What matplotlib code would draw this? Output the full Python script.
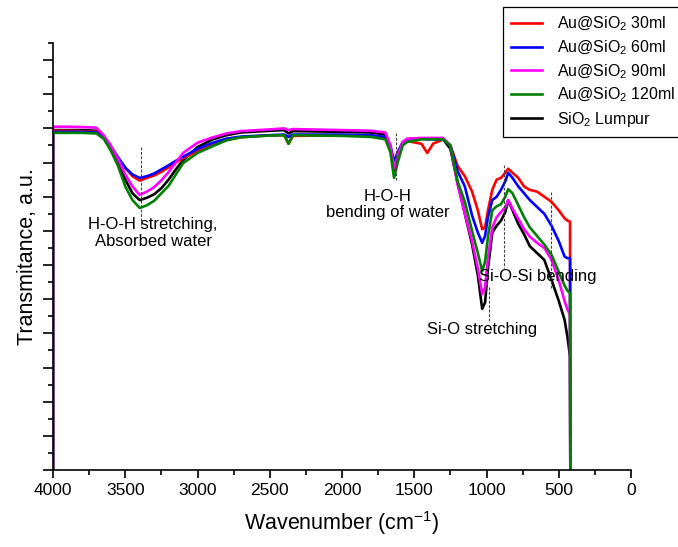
import numpy as np
import matplotlib
matplotlib.use("Agg")
import matplotlib.pyplot as plt
from matplotlib.ticker import MultipleLocator, NullFormatter

plt.rcParams['font.family'] = ['Liberation Sans', 'DejaVu Sans']
plt.rcParams['mathtext.fontset'] = 'custom'
plt.rcParams['mathtext.rm'] = 'Liberation Sans'
plt.rcParams['mathtext.it'] = 'Liberation Sans'

# wavenumber grid (cm-1)
wavenumber = [4000, 4000, 3900, 3800, 3700, 3650, 3600, 3550, 3500, 3450, 3400,
              3350, 3300, 3250, 3200, 3150, 3100, 3000, 2900, 2800, 2700, 2500,
              2400, 2370, 2340, 2000, 1800, 1700, 1665, 1640, 1615, 1580, 1550,
              1450, 1410, 1370, 1300, 1250, 1200, 1150, 1100, 1060, 1030, 1010,
              990, 960, 930, 900, 870, 850, 820, 780, 740, 700, 650, 600, 550,
              500, 460, 440, 422, 420]

au_30 = [0, 9.93, 9.93, 9.92, 9.9, 9.75, 9.45, 9.15, 8.85, 8.6, 8.47,
         8.55, 8.62, 8.73, 8.86, 9.0, 9.13, 9.33, 9.5, 9.66, 9.74, 9.8,
         9.8, 9.55, 9.78, 9.8, 9.78, 9.72, 9.45, 8.95, 9.25, 9.58, 9.63,
         9.55, 9.28, 9.55, 9.68, 9.5, 8.9, 8.6, 8.15, 7.6, 7.05, 7.1,
         7.6, 8.2, 8.5, 8.55, 8.7, 8.82, 8.7, 8.55, 8.3, 8.2, 8.15, 8.0, 7.85,
         7.6, 7.37, 7.3, 7.27, 0]

au_60 = [0, 9.9, 9.9, 9.9, 9.88, 9.75, 9.47, 9.15, 8.85, 8.65, 8.55,
         8.6, 8.68, 8.8, 8.92, 9.05, 9.17, 9.4, 9.57, 9.7, 9.76, 9.8,
         9.82, 9.75, 9.82, 9.82, 9.8, 9.75, 9.5, 9.03, 9.3, 9.6, 9.65,
         9.7, 9.68, 9.68, 9.68, 9.5, 8.75, 8.3, 7.45, 6.95, 6.65, 6.85,
         7.4, 7.9, 8.0, 8.2, 8.45, 8.7, 8.55, 8.3, 8.1, 7.9, 7.7, 7.5, 7.15,
         6.7, 6.25, 6.2, 6.2, 0]

au_90 = [0, 10.05, 10.05, 10.04, 10.02, 9.8, 9.5, 9.1, 8.65, 8.3, 8.05,
         8.15, 8.28, 8.48, 8.72, 9.0, 9.28, 9.58, 9.73, 9.85, 9.92, 9.97,
         10.0, 9.95, 9.98, 9.95, 9.93, 9.88, 9.5, 8.84, 9.2, 9.6, 9.7,
         9.72, 9.72, 9.72, 9.72, 9.5, 8.35, 7.5, 6.7, 5.9, 5.15, 5.35,
         6.2, 7.1, 7.4, 7.55, 7.7, 7.9, 7.65, 7.35, 7.05, 6.83, 6.65, 6.5, 6.15,
         5.55, 4.95, 4.7, 4.55, 0]

au_120 = [0, 9.87, 9.87, 9.87, 9.85, 9.7, 9.35, 8.9, 8.3, 7.9, 7.67,
          7.75, 7.88, 8.1, 8.32, 8.65, 8.98, 9.28, 9.47, 9.65, 9.74, 9.79,
          9.8, 9.55, 9.8, 9.78, 9.75, 9.68, 9.3, 8.55, 9.0, 9.5, 9.6,
          9.68, 9.68, 9.68, 9.68, 9.5, 8.45, 7.85, 7.0, 6.35, 5.82, 6.1,
          6.83, 7.6, 7.72, 7.78, 8.0, 8.22, 8.1, 7.75, 7.4, 7.1, 6.85, 6.6, 6.3,
          5.8, 5.4, 5.25, 5.17, 0]

sio2 = [0, 9.95, 9.95, 9.95, 9.93, 9.75, 9.45, 9.0, 8.5, 8.1, 7.9,
        7.97, 8.07, 8.25, 8.5, 8.8, 9.07, 9.45, 9.67, 9.8, 9.88, 9.93,
        9.95, 9.85, 9.92, 9.9, 9.88, 9.82, 9.4, 8.73, 9.1, 9.55, 9.65,
        9.7, 9.7, 9.7, 9.68, 9.4, 8.4, 7.5, 6.6, 5.7, 4.72, 4.9,
        5.9, 6.95, 7.15, 7.3, 7.55, 7.9, 7.6, 7.2, 6.9, 6.55, 6.35, 6.15, 5.56,
        4.95, 4.4, 3.9, 3.32, 0]

labels = [r'Au@SiO$_\mathregular{2}$ 30ml', r'Au@SiO$_\mathregular{2}$ 60ml',
          r'Au@SiO$_\mathregular{2}$ 90ml', r'Au@SiO$_\mathregular{2}$ 120ml',
          r'SiO$_\mathregular{2}$ Lumpur']
colors = ['#ff0000', '#0000ff', '#ff00ff', '#008000', '#000000']
series = [au_30, au_60, au_90, au_120, sio2]

# band markers: (wavenumber, y from, y to)
band_lines = [(3393, 9.45, 7.17), (1626, 9.86, 8.49), (981, 5.36, 4.33),
              (879, 8.93, 5.9), (556, 8.14, 5.33)]
band_texts = [(3308, 6.94, 'H-O-H stretching,\nAbsorbed water'),
              (1685, 7.77, 'H-O-H\nbending of water'),
              (1028, 4.10, 'Si-O stretching'),
              (644, 5.66, 'Si-O-Si bending')]

fig = plt.figure(figsize=(6.78, 5.47), dpi=100)
ax = fig.add_axes([0.0782, 0.1408, 0.8525, 0.7806])

handles = [None] * 5
for i in [4, 0, 1, 2, 3]:
    h, = ax.plot(wavenumber, series[i], color=colors[i], lw=1.9, label=labels[i])
    handles[i] = h

for x, y0, y1 in band_lines:
    ax.plot([x, x], [y0, y1], color='#404040', lw=0.8, ls=(0, (2.5, 1.5)))
for x, y, t in band_texts:
    ax.text(x, y, t, ha='center', va='center', fontsize=12, linespacing=1.1)

ax.set_xlim(4000, 0)
ax.set_ylim(0, 12.5)
ax.xaxis.set_major_locator(MultipleLocator(500))
ax.xaxis.set_minor_locator(MultipleLocator(250))
ax.yaxis.set_major_locator(MultipleLocator(1))
ax.yaxis.set_minor_locator(MultipleLocator(0.5))
ax.yaxis.set_major_formatter(NullFormatter())
for s in ['top', 'right']:
    ax.spines[s].set_visible(False)
for s in ['left', 'bottom']:
    ax.spines[s].set_linewidth(1.2)
ax.tick_params(which='major', length=6, width=1.2, labelsize=12.5)
ax.tick_params(which='minor', length=3.5, width=1.2)
ax.tick_params(axis='y', which='major', length=7)

ax.set_xlabel(r'Wavenumber (cm$^{-1}$)', fontsize=15.5, labelpad=8)
ax.set_ylabel('Transmitance, a.u.', fontsize=15.5)
ax.yaxis.set_label_coords(-0.026, 0.5)

leg = fig.legend(handles=handles, loc='upper left', bbox_to_anchor=(503 / 678, 1 - 7 / 547),
                 fontsize=11.5, frameon=True, fancybox=False, framealpha=1,
                 edgecolor='black', handlelength=1.95, handletextpad=0.9,
                 labelspacing=0.33, borderpad=0.5, borderaxespad=0)
leg.get_frame().set_linewidth(0.9)

fig.savefig('out.png', dpi=100)
